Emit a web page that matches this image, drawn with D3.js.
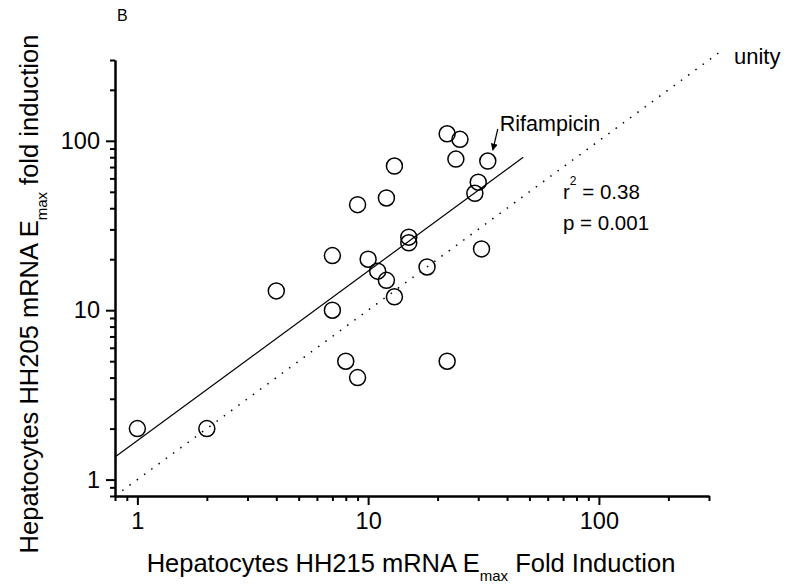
<!DOCTYPE html>
<html>
<head>
<meta charset="utf-8">
<script src="https://cdn.jsdelivr.net/npm/d3@7"></script>
<style>
  html, body { margin: 0; padding: 0; background: #fff; }
  svg { display: block; font-family: "Liberation Sans", Arial, sans-serif; }
</style>
</head>
<body>
<div id="chart"></div>
<script>
// HH215 (x) vs HH205 (y) Emax fold induction, one pair per compound
const hh215 = [1, 2, 4, 7, 7, 8, 9, 9, 10, 11, 12, 12, 13, 13, 15, 15, 18, 22, 22, 24, 25, 29, 30, 31, 33];
const hh205 = [2, 2, 13, 21, 10, 5, 4, 42, 20, 17, 15, 46, 12, 71, 25, 27, 18, 110, 5, 78, 102, 49, 57, 23, 76];

// regression line ends and unity line ends
const fitX = [0.8, 47];
const fitY = [1.36, 80];
const unityX = [0.86, 345];
const unityY = [0.86, 345];

const majorTicks = [1, 10, 100];
const minorTicks = [0.8, 0.9, 2, 3, 4, 5, 6, 7, 8, 9, 20, 30, 40, 50, 60, 70, 80, 90, 200, 300];

const rifampicin = { x: 33, y: 76 };

const width = 790, height = 586;
const margin = { top: 60, right: 81, bottom: 90, left: 115 };
const innerW = width - margin.left - margin.right;
const innerH = height - margin.top - margin.bottom;

const svg = d3.select("#chart").append("svg")
    .attr("width", width).attr("height", height);

const g = svg.append("g").attr("transform", `translate(${margin.left},${margin.top})`);

const x = d3.scaleLog().domain([0.8, 300]).range([0, innerW]);
const y = d3.scaleLog().domain([0.8, 300]).range([innerH, 0]);

// unity (dotted) and regression (solid)
const line = d3.line().x(d => x(d[0])).y(d => y(d[1]));
g.append("path")
    .datum(d3.zip(unityX, unityY))
    .attr("d", line)
    .attr("fill", "none").attr("stroke", "#000")
    .attr("stroke-width", 1.5).attr("stroke-dasharray", "1.5,7.5");
g.append("path")
    .datum(d3.zip(fitX, fitY))
    .attr("d", line)
    .attr("fill", "none").attr("stroke", "#000").attr("stroke-width", 1.2);

// points
g.selectAll("circle.dot")
    .data(d3.zip(hh215, hh205))
    .join("circle").attr("class", "dot")
    .attr("cx", d => x(d[0]))
    .attr("cy", d => y(d[1]))
    .attr("r", 8)
    .attr("fill", "none")
    .attr("stroke", "#000")
    .attr("stroke-width", 1.5);

// Axes: minor ticks then major ticks with labels
function styleAxis(sel) {
    sel.selectAll("path.domain").attr("stroke-width", 2);
    sel.selectAll(".tick line").attr("stroke-width", 2);
}
g.append("g").attr("transform", `translate(0,${innerH})`)
    .call(d3.axisBottom(x).tickValues(minorTicks).tickSize(5).tickSizeOuter(0).tickFormat(""))
    .call(styleAxis);
g.append("g").attr("transform", `translate(0,${innerH})`)
    .call(d3.axisBottom(x).tickValues(majorTicks).tickSize(9).tickSizeOuter(0).tickFormat(d3.format("d")).tickPadding(7))
    .call(styleAxis)
    .selectAll("text").style("font-size", "23.5px").attr("fill", "#000");

g.append("g")
    .call(d3.axisLeft(y).tickValues(minorTicks).tickSize(5).tickSizeOuter(0).tickFormat(""))
    .call(styleAxis);
g.append("g")
    .call(d3.axisLeft(y).tickValues(majorTicks).tickSize(9).tickSizeOuter(0).tickFormat(d3.format("d")).tickPadding(6))
    .call(styleAxis)
    .selectAll("text").style("font-size", "23.5px").attr("fill", "#000");

// Axis titles
const xt = svg.append("text").attr("x", 411).attr("y", 572)
    .attr("text-anchor", "middle").style("font-size", "25.5px");
xt.append("tspan").text("Hepatocytes HH215 mRNA E");
xt.append("tspan").attr("dy", 9).style("font-size", "15px").text("max");
xt.append("tspan").attr("dy", -9).text(" Fold Induction");

const yt = svg.append("text").attr("transform", "translate(38,294) rotate(-90)")
    .attr("text-anchor", "middle").style("font-size", "25.5px");
yt.append("tspan").text("Hepatocytes HH205 mRNA E");
yt.append("tspan").attr("dy", 9).style("font-size", "15px").text("max");
yt.append("tspan").attr("dy", -9).text(" fold induction");

// Panel letter
svg.append("text").attr("x", 117).attr("y", 21).style("font-size", "16px").text("B");

// Annotations
g.append("text").attr("x", x(unityX[1]) + 11).attr("y", y(unityY[1]) + 14)
    .style("font-size", "22px").text("unity");

const rx = x(rifampicin.x), ry = y(rifampicin.y);
svg.append("defs").append("marker")
    .attr("id", "arrow").attr("viewBox", "0 0 10 10")
    .attr("refX", 9).attr("refY", 5)
    .attr("markerWidth", 7).attr("markerHeight", 7)
    .attr("markerUnits", "userSpaceOnUse")
    .attr("orient", "auto")
    .append("path").attr("d", "M0,0L10,5L0,10Z").attr("fill", "#000");
g.append("line")
    .attr("x1", rx + 10).attr("y1", ry - 32)
    .attr("x2", rx + 5).attr("y2", ry - 11)
    .attr("stroke", "#000").attr("stroke-width", 1.2)
    .attr("marker-end", "url(#arrow)");
g.append("text").attr("x", rx + 12).attr("y", ry - 30)
    .style("font-size", "21.5px").text("Rifampicin");

const st = svg.append("text").attr("x", 563).attr("y", 199).style("font-size", "20.5px");
st.append("tspan").text("r");
st.append("tspan").attr("dy", -14).style("font-size", "12px").text("2");
st.append("tspan").attr("dy", 14).text(" = 0.38");
svg.append("text").attr("x", 563).attr("y", 230).style("font-size", "20.5px").text("p = 0.001");
</script>
</body>
</html>
